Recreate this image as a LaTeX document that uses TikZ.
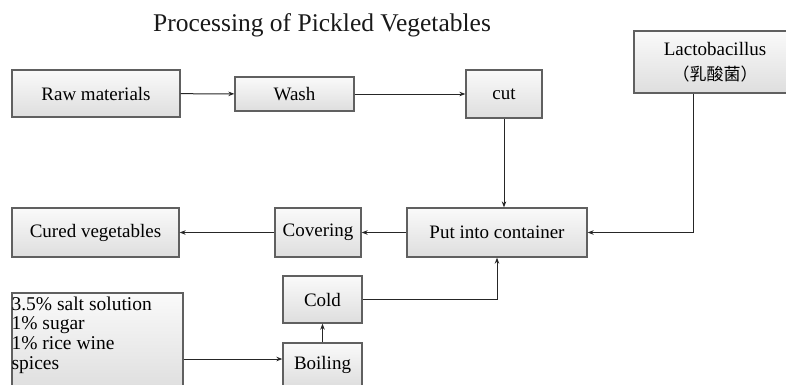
\documentclass[tikz,border=0pt]{standalone}
\usepackage{fontspec}
\setmainfont{Liberation Serif}
\newfontfamily\cjk{Noto Sans CJK SC}
\usetikzlibrary{arrows.meta}
\tikzset{
  box/.style={draw=gray!75!black, line width=1.3pt, top color=gray!4, bottom color=gray!26,
    inner sep=0pt, font=\fontsize{19}{22}\selectfont, text=black},
  conn/.style={draw=black!85, line width=1pt, -{Stealth[length=6pt,width=4.5pt]}},
}
\begin{document}
\begin{tikzpicture}[x=1pt,y=-1pt]
\useasboundingbox (0,0) rectangle (786,384);
\clip (0,0) rectangle (786,384);
\node[font=\fontsize{25.5}{30}\selectfont, text=black!90] (title) at (322,25) {Processing of Pickled Vegetables};
\node[box, minimum width=168pt, minimum height=47pt] (raw) at (96,93.5) {Raw materials};
\node[box, minimum width=119pt, minimum height=34pt] (wash) at (294.5,94) {Wash};
\node[box, minimum width=76pt, minimum height=48pt] (cut) at (504,94) {cut};
\node[box, minimum width=162pt, minimum height=62pt, align=center] (lacto) at (715,62) {Lactobacillus\\[3pt]{\cjk\fontsize{17}{20}\selectfont （乳酸菌）}};
\node[box, minimum width=180pt, minimum height=49pt] (put) at (497,232.5) {Put into container};
\node[box, minimum width=86pt, minimum height=49pt] (cov) at (318,232.5) {Covering};
\node[box, minimum width=167pt, minimum height=49pt] (cured) at (95.5,232.5) {Cured vegetables};
\node[box, minimum width=79pt, minimum height=47pt] (cold) at (322.5,299.5) {Cold};
\node[box, minimum width=79pt, minimum height=44pt] (boil) at (322.5,365) {Boiling};
\node[box, minimum width=171pt, minimum height=100pt] (salt) at (97.5,343) {};
\node[anchor=north west, inner sep=0pt, align=left, font=\fontsize{19.5}{19.7}\selectfont, text=black] (salttext) at ([xshift=0pt,yshift=-4pt]salt.north west) {3.5\% salt solution\\1\% sugar\\1\% rice wine\\spices};

\coordinate (lactodown) at ([xshift=-22pt]lacto.south);
\coordinate (saltout) at (salt.east |- 0,359);
\coordinate (boilin) at (boil.west |- 0,359);

\draw[conn] (raw) -- (wash);
\draw[conn] (wash) -- (cut);
\draw[conn] (cut.south) -- (cut.south |- put.north);
\draw[conn] (lactodown) |- (put.east);
\draw[conn] (put) -- (cov);
\draw[conn] (cov) -- (cured);
\draw[conn] (boil) -- (cold);
\draw[conn] (cold.east) -| (put.south);
\draw[conn] (saltout) -- (boilin);
\end{tikzpicture}
\end{document}
